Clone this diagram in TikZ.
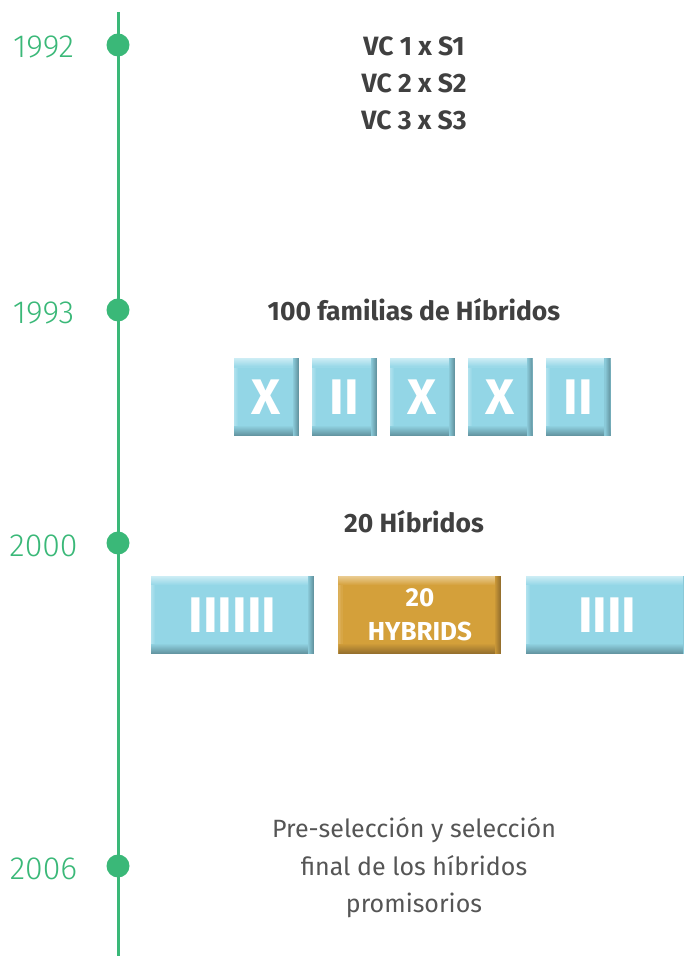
\documentclass[tikz,border=0pt]{standalone}
\usepackage{fontspec}
\setmainfont{Fira Sans}
\newfontfamily\yearfont{Fira Sans Light}
\usetikzlibrary{positioning}
\definecolor{cgreen}{RGB}{58,184,120}
\definecolor{cdark}{RGB}{64,64,64}
\definecolor{cgraytext}{RGB}{85,85,85}
\definecolor{cblue}{RGB}{147,214,230}
\definecolor{cbluelight}{RGB}{205,237,245}
\definecolor{cbluedark}{RGB}{100,150,162}
\definecolor{cgold}{RGB}{212,160,58}
\definecolor{cgoldlight}{RGB}{234,204,146}
\definecolor{cgolddark}{RGB}{150,112,45}

\begin{document}
\begin{tikzpicture}[
  x=1pt,y=1pt,
  axis/.style={draw=cgreen,line width=3pt},
  dot/.style={circle,fill=cgreen,minimum size=23pt,inner sep=0pt},
  year/.style={font=\yearfont\fontsize{32}{32}\selectfont,text=cgreen},
  title/.style={font=\bfseries\fontsize{26.5}{37}\selectfont,text=cdark,align=center},
  plain/.style={font=\fontsize{25}{37.5}\selectfont,text=cgraytext,align=center},
  bevel/.style n args={3}{fill=#1,inner sep=0pt,text=white,align=center,
    path picture={
      % left edge, slightly lighter
      \foreach \i [evaluate=\i as \p using int(50-\i*12)] in {0,...,3}
        \fill[#2!\p!#1] ([xshift=\i pt]path picture bounding box.north west)
          rectangle ([xshift=\i pt+1.2pt]path picture bounding box.south west);
      % top edge
      \foreach \i [evaluate=\i as \p using int(100-\i*11)] in {0,...,8}
        \fill[#2!\p!#1] ([yshift=-\i pt]path picture bounding box.north west)
          rectangle ([yshift=-\i pt-1.2pt]path picture bounding box.north east);
      % bottom edge
      \foreach \i [evaluate=\i as \p using int(100-\i*10)] in {0,...,9}
        \fill[#3!\p!#1] ([yshift=\i pt]path picture bounding box.south west)
          rectangle ([yshift=\i pt+1.2pt]path picture bounding box.south east);
      % right edge
      \foreach \i [evaluate=\i as \p using int(100-\i*16)] in {0,...,5}
        \fill[#3!\p!#1] ([xshift=-\i pt]path picture bounding box.north east)
          rectangle ([xshift=-\i pt-1.2pt]path picture bounding box.south east);
    }},
  bluebox/.style={bevel={cblue}{cbluelight}{cbluedark}},
  goldbox/.style={bevel={cgold}{cgoldlight}{cgolddark}},
  square/.style={bluebox,minimum width=65pt,minimum height=78pt,font=\bfseries\fontsize{50}{50}\selectfont},
  wide/.style={minimum width=163pt,minimum height=78pt,font=\bfseries\fontsize{50}{50}\selectfont},
  node distance=12.5pt
]
  \useasboundingbox (0,0) rectangle (683,956);

  % timeline
  \coordinate (top) at (118,944);
  \coordinate (bottom) at (118,0);
  \draw[axis] (top) -- (bottom);

  \node[dot] (d1992) at (118,911) {};
  \node[dot] (d1993) at (118,646) {};
  \node[dot] (d2000) at (118,413) {};
  \node[dot] (d2006) at (118,90) {};

  \node[year] (y1992) at (43.5,909) {1992};
  \node[year] (y1993) at (43.5,643) {1993};
  \node[year] (y2000) at (43.5,410) {2000};
  \node[year] (y2006) at (43.5,87) {2006};

  % 1992
  \node[title] (cross) at (414,873) {VC 1 x S1\\VC 2 x S2\\VC 3 x S3};

  % 1993
  \node[title] (fam) at (414,646) {100 familias de Híbridos};
  \node[square] (b1) at (266.5,558.5) {X};
  \node[square,right=of b1] (b2) {II};
  \node[square,right=of b2] (b3) {X};
  \node[square,right=of b3] (b4) {X};
  \node[square,right=of b4] (b5) {II};

  % 2000
  \node[title] (hyb) at (414,434) {20 Híbridos};
  \node[wide,bluebox] (w1) at (232.5,341) {IIIIII};
  \node[wide,goldbox,right=24pt of w1,font=\bfseries\fontsize{26}{34}\selectfont] (w2) {20\\HYBRIDS};
  \node[wide,bluebox,right=24pt of w2] (w3) {IIII};

  % 2006
  \node[plain] (final) at (414,88) {Pre-selección y selección\\final de los híbridos\\promisorios};
\end{tikzpicture}
\end{document}
